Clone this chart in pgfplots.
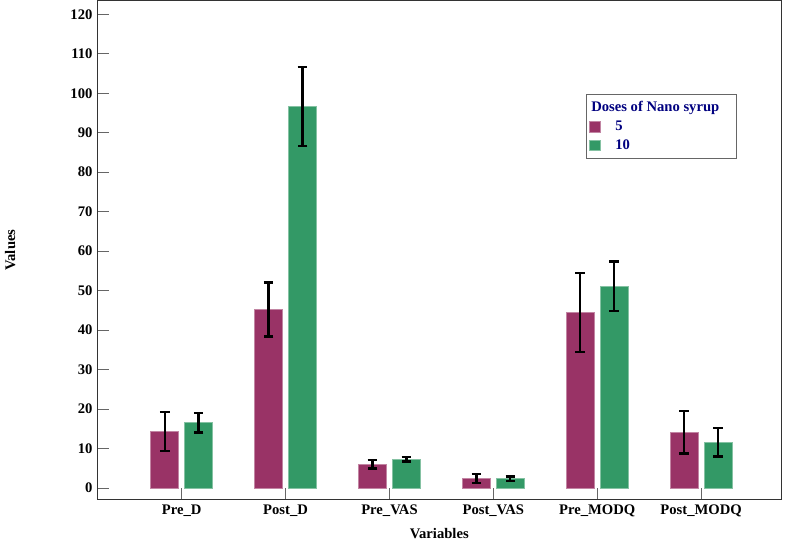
\documentclass[border=0pt]{standalone}
\usepackage{pgfplots}
\pgfplotsset{compat=1.18}
\usepackage{fontspec}
\setmainfont{Liberation Serif}
\definecolor{cpurple}{RGB}{153,51,102}
\definecolor{cgreen}{RGB}{51,153,102}
\definecolor{navy}{RGB}{0,0,128}
\begin{document}
\fontsize{11}{13}\selectfont
\begin{tikzpicture}
\begin{axis}[
  scale only axis,
  width=514pt, height=375.4pt,
  xmin=-0.81, xmax=5.77,
  ymin=-3, ymax=123.5,
  ybar=4.5pt, bar width=21pt,
  xtick={0,1,2,3,4,5},
  xticklabels={Pre\_D,Post\_D,Pre\_VAS,Post\_VAS,Pre\_MODQ,Post\_MODQ},
  ytick={0,10,...,120},
  tick align=inside,
  xtick pos=bottom, ytick pos=left,
  major tick length=8.5pt,
  x tick style={line width=0.6pt, color=black!60},
  y tick style={line width=0.6pt, color=black!60},
  axis line style={line width=0.8pt, color=black!80},
  /pgf/number format/assume math mode=true,
  ticklabel style={font=\fontsize{11}{13}\selectfont\bfseries},
  xlabel={Variables}, ylabel={Values},
  label style={font=\fontsize{11}{13}\selectfont\bfseries},
  xlabel style={at={(axis description cs:0.5,-0.068)}, anchor=center},
  ylabel style={at={(axis description cs:-0.128,0.5)}, anchor=center},
  legend style={at={(axis description cs:0.715,0.812)}, anchor=north west,
    draw=black!60, line width=0.6pt, font=\fontsize{11}{13}\selectfont\bfseries\color{navy},
    inner xsep=2pt, inner ysep=3pt, row sep=1.2pt},
  legend cell align=left,
  legend image code/.code={\fill[#1] (0pt,-4pt) rectangle (8pt,4pt);},
  error bars/y dir=both, error bars/y explicit,
  error bars/error mark options={rotate=90, mark size=3.6pt, line width=1.8pt, black},
  error bars/error bar style={line width=1.8pt, black},
]
\addlegendimage{empty legend}
\addlegendentry{\hspace*{-9pt}Doses of Nano syrup\hspace*{9pt}}
\addplot[fill=cpurple, draw=cpurple!60!white, line width=0.5pt] coordinates {
  (0,14.3) +- (0,4.9)
  (1,45.2) +- (0,6.8)
  (2,6.0) +- (0,1.1)
  (3,2.35) +- (0,1.15)
  (4,44.5) +- (0,10.0)
  (5,14.1) +- (0,5.4)
};
\addlegendentry{\hspace*{9pt}5}
\addplot[fill=cgreen, draw=cgreen!60!white, line width=0.5pt] coordinates {
  (0,16.5) +- (0,2.5)
  (1,96.7) +- (0,10.0)
  (2,7.25) +- (0,0.6)
  (3,2.3) +- (0,0.55)
  (4,51.1) +- (0,6.3)
  (5,11.6) +- (0,3.6)
};
\addlegendentry{\hspace*{9pt}10}
\end{axis}
\path (current axis.south west) ++(-71.8pt,-30pt) rectangle ++(591pt,405.75pt);
\end{tikzpicture}
\end{document}
